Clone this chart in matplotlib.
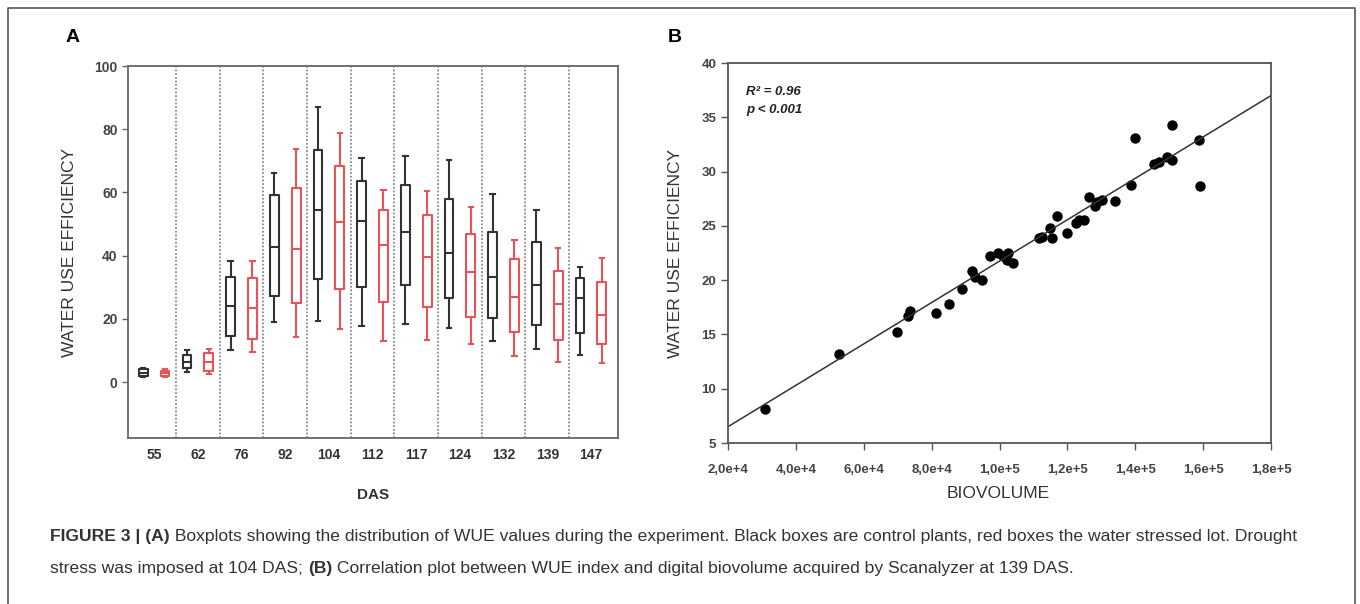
import matplotlib
matplotlib.use("Agg")
import matplotlib.pyplot as plt
from matplotlib.ticker import FuncFormatter
from matplotlib.lines import Line2D

plt.rcParams['font.family'] = ['Liberation Sans', 'DejaVu Sans']

W, H = 1360, 604

# ---- panel A data: days after sowing, box stats (low whisker, q1, median, q3, high whisker)
das_days = ['55', '62', '76', '92', '104', '112', '117', '124', '132', '139', '147']
control_stats = [
    (1.5, 2.0, 3.0, 4.0, 4.5),
    (3.3, 4.4, 6.4, 8.5, 10.1),
    (10.1, 14.6, 24.2, 33.1, 38.3),
    (18.9, 27.2, 42.8, 59.3, 66.3),
    (19.4, 32.5, 54.4, 73.4, 86.9),
    (17.7, 30.2, 51.0, 63.7, 71.0),
    (18.4, 30.6, 47.6, 62.5, 71.6),
    (17.0, 26.5, 40.7, 57.8, 70.3),
    (13.0, 20.4, 33.3, 47.6, 59.4),
    (10.4, 17.9, 30.7, 44.4, 54.4),
    (8.5, 15.4, 26.7, 33.0, 36.3),
]
stressed_stats = [
    (1.5, 2.0, 2.8, 3.6, 4.0),
    (2.5, 3.6, 6.4, 9.1, 10.4),
    (9.6, 13.7, 23.5, 33.0, 38.3),
    (14.3, 24.9, 42.0, 61.5, 73.7),
    (16.8, 29.3, 50.7, 68.4, 78.7),
    (13.0, 25.4, 43.4, 54.4, 60.8),
    (13.3, 23.6, 39.7, 52.8, 60.4),
    (12.0, 20.5, 34.9, 47.0, 55.3),
    (8.3, 15.9, 27.0, 38.8, 45.1),
    (6.4, 13.3, 24.6, 35.1, 42.3),
    (5.9, 11.9, 21.2, 31.7, 39.1),
]

# ---- panel B data: biovolume vs WUE at 139 DAS
biovolume = [31000, 52800, 69800, 73100, 73600, 81300, 85200, 88900, 92000, 92800,
             94800, 97200, 99700, 101100, 102600, 102100, 104100, 111500, 112400, 114900,
             115400, 116900, 119800, 122600, 123500, 124900, 126500, 128200, 128700, 130100,
             134000, 138700, 139900, 145500, 147100, 149300, 150800, 150800, 158800, 159100]
wue = [8.1, 13.2, 15.2, 16.7, 17.2, 17.0, 17.8, 19.2, 20.8, 20.3,
       20.0, 22.2, 22.5, 22.2, 22.5, 21.9, 21.6, 23.9, 24.0, 24.8,
       23.9, 25.9, 24.3, 25.3, 25.5, 25.5, 27.7, 26.8, 27.2, 27.4,
       27.3, 28.8, 33.1, 30.7, 30.9, 31.3, 31.1, 34.3, 32.9, 28.7]
fit_intercept = 2.6875
fit_slope = 1.90625e-4
fit_range = (2.0e4, 1.8e5)

BLACK = '#333333'
RED = '#e8535a'
TICK = '#444444'


def px_axes(fig, left, top, right, bottom):
    return fig.add_axes([left / W, 1 - bottom / H, (right - left) / W, (bottom - top) / H])


def make_stats(vals):
    lo, q1, med, q3, hi = vals
    return dict(whislo=lo, q1=q1, med=med, q3=q3, whishi=hi, fliers=[])


def draw_runs(fig, x_px, y_px, runs, size):
    renderer = fig.canvas.get_renderer()
    x = x_px
    for txt, weight in runs:
        t = fig.text(x / W, 1 - y_px / H, txt, fontsize=size, fontweight=weight,
                     ha='left', va='center', color='#333333')
        x += t.get_window_extent(renderer).width


fig = plt.figure(figsize=(W / 100, H / 100), dpi=100)

# ---- panel A
axA = px_axes(fig, 128, 66, 618, 438)
pos = list(range(1, len(das_days) + 1))
for stats, offset, color in ((control_stats, -0.25, BLACK), (stressed_stats, 0.25, RED)):
    props = dict(color=color, linewidth=1.5)
    axA.bxp([make_stats(s) for s in stats], positions=[p + offset for p in pos],
            widths=0.2, showfliers=False, boxprops=props, medianprops=props,
            whiskerprops=props, capprops=props, manage_ticks=False)
for p in pos[:-1]:
    axA.axvline(p + 0.5, color='#777777', linestyle=(0, (1.2, 1.2)), linewidth=1.1)
axA.set_xlim(0.4, 11.62)
axA.set_ylim(-17.7, 100)
axA.set_yticks([0, 20, 40, 60, 80, 100])
axA.set_xticks(pos)
axA.set_xticklabels(das_days, fontweight='bold')
axA.tick_params(axis='x', length=0, pad=7, labelsize=10, labelcolor=BLACK)
axA.tick_params(axis='y', length=4, width=1, color='#666666', labelsize=10, labelcolor=TICK)
for lab in axA.get_yticklabels():
    lab.set_fontweight('bold')
for sp in axA.spines.values():
    sp.set_color('#666666')
    sp.set_linewidth(1.3)

# ---- panel B
axB = px_axes(fig, 728, 63, 1271, 443)
axB.plot(biovolume, wue, 'o', color='black', markersize=7.5, markeredgewidth=0)
axB.plot(fit_range, [fit_intercept + fit_slope * v for v in fit_range], color='#333333', linewidth=1.1)
axB.set_xlim(2.0e4, 1.8e5)
axB.set_ylim(5, 40)
axB.set_xticks([2e4, 4e4, 6e4, 8e4, 1e5, 1.2e5, 1.4e5, 1.6e5, 1.8e5])
axB.set_yticks([5, 10, 15, 20, 25, 30, 35, 40])


def sci_comma(v, _):
    e = 0
    while v >= 10:
        v /= 10
        e += 1
    return f"{v:.1f}".replace('.', ',') + f"e+{e}"


axB.xaxis.set_major_formatter(FuncFormatter(sci_comma))
axB.tick_params(length=5, width=1, color='#555555', labelsize=9.5, labelcolor=TICK)
axB.tick_params(axis='x', pad=10)
for lab in axB.get_xticklabels() + axB.get_yticklabels():
    lab.set_fontweight('bold')
for sp in axB.spines.values():
    sp.set_color('#555555')
    sp.set_linewidth(1.3)
axB.text(0.033, 0.924, 'R² = 0.96', transform=axB.transAxes, fontsize=9.5,
         fontweight='bold', style='italic', color='#222222', va='center')
axB.text(0.033, 0.876, 'p < 0.001', transform=axB.transAxes, fontsize=9.5,
         fontweight='bold', style='italic', color='#222222', va='center')

# ---- labels
fig.text(66 / W, 1 - 37 / H, 'A', fontsize=14, fontweight='bold', ha='left', va='center')
fig.text(668 / W, 1 - 37 / H, 'B', fontsize=14, fontweight='bold', ha='left', va='center')
fig.text(70 / W, 1 - 252 / H, 'WATER USE EFFICIENCY', rotation=90, fontsize=12.5,
         ha='center', va='center', color=BLACK)
fig.text(676 / W, 1 - 253 / H, 'WATER USE EFFICIENCY', rotation=90, fontsize=12.5,
         ha='center', va='center', color=BLACK)
fig.text(373 / W, 1 - 495 / H, 'DAS', fontsize=11, fontweight='bold', ha='center',
         va='center', color=BLACK)
fig.text(998 / W, 1 - 494 / H, 'BIOVOLUME', fontsize=12.5, ha='center', va='center', color=BLACK)

# ---- caption
draw_runs(fig, 50, 537, [
    ('FIGURE 3 | (A)', 'bold'),
    (' Boxplots showing the distribution of WUE values during the experiment. Black boxes are '
     'control plants, red boxes the water stressed lot. Drought', 'normal'),
], 12.6)
draw_runs(fig, 50, 568, [
    ('stress was imposed at 104 DAS; ', 'normal'),
    ('(B)', 'bold'),
    (' Correlation plot between WUE index and digital biovolume acquired by Scanalyzer at 139 DAS.',
     'normal'),
], 12.6)

# ---- outer frame
frame_x = [8 / W, 8 / W, 1355 / W, 1355 / W]
frame_y = [0, 1 - 8 / H, 1 - 8 / H, 0]
fig.add_artist(Line2D(frame_x, frame_y, color='#555555', linewidth=1.2))

fig.savefig('out.png', dpi=100)
